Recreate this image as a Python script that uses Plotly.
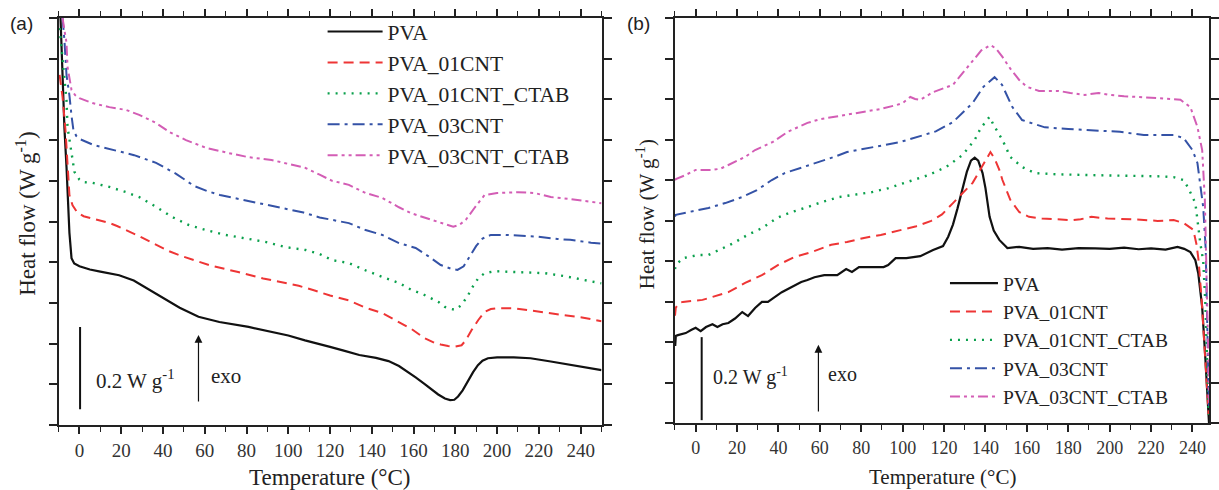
import plotly.graph_objects as go

# ---------------- Panel (a) data: temperature (°C) and heat flow (W/g, offset) ----------------
t_pva_a = [-9.2, -8.1, -7.2, -6.2, -4.8, -3.8, -2.5, 0, 5, 10, 19, 26, 33, 40, 48, 57, 67, 81, 92, 100,
           108, 114.5, 120, 127, 134, 142, 148, 153, 157.4, 161, 165.5, 169, 171.8, 175, 177.5, 179.5,
           181.3, 183.5, 186, 188.5, 190.8, 193, 195.6, 200, 208, 216, 225.7, 233, 240, 250]
hf_pva_a = [1.02, 0.84, 0.73, 0.634, 0.472, 0.41, 0.397, 0.39, 0.382, 0.377, 0.368, 0.355, 0.333, 0.312,
            0.288, 0.266, 0.253, 0.241, 0.229, 0.22, 0.208, 0.2, 0.192, 0.182, 0.172, 0.165, 0.157, 0.145,
            0.13, 0.117, 0.1, 0.085, 0.075, 0.065, 0.061, 0.062, 0.07, 0.085, 0.108, 0.13, 0.147, 0.158,
            0.164, 0.166, 0.166, 0.164, 0.156, 0.15, 0.145, 0.135]

t_01_a = [-9.5, -8.1, -6.7, -5.7, -4.8, -3.3, -1, 2, 5, 9.5, 14, 18, 22.4, 28.6, 34, 38, 43, 49, 55, 62,
          70, 76, 88, 100, 105, 113, 120, 129, 137, 145, 153, 159, 165, 170, 173, 176.5, 180, 183, 185,
          188, 191, 194, 197, 200, 208, 216, 224, 232, 240, 245, 250]
hf_01_a = [0.86, 0.806, 0.725, 0.651, 0.565, 0.54, 0.522, 0.513, 0.509, 0.504, 0.497, 0.489, 0.479, 0.464,
           0.45, 0.44, 0.427, 0.415, 0.405, 0.393, 0.383, 0.376, 0.36, 0.348, 0.342, 0.33, 0.318, 0.306,
           0.288, 0.275, 0.253, 0.236, 0.214, 0.202, 0.198, 0.194, 0.193, 0.196, 0.208, 0.235, 0.258,
           0.278, 0.285, 0.287, 0.287, 0.281, 0.275, 0.27, 0.265, 0.26, 0.255]

t_01c_a = [-9.5, -9, -7.6, -6.2, -5.7, -4.8, -3.8, -2.4, 0, 1.4, 6.2, 14.3, 22.4, 28.6, 36.7, 44.4, 52.5,
           60.6, 70, 79.7, 89, 98.8, 108.3, 115, 121, 129, 137, 145, 153, 159, 165, 172, 175, 178, 180,
           183, 186, 188, 191, 194, 199, 208, 223, 232, 246.6, 250]
hf_01c_a = [0.975, 0.946, 0.872, 0.798, 0.732, 0.70, 0.668, 0.622, 0.603, 0.597, 0.595, 0.585, 0.572, 0.56,
            0.536, 0.511, 0.491, 0.479, 0.467, 0.459, 0.45, 0.437, 0.43, 0.42, 0.405, 0.398, 0.38, 0.364,
            0.349, 0.332, 0.32, 0.302, 0.29, 0.285, 0.283, 0.295, 0.318, 0.337, 0.361, 0.373, 0.378, 0.376,
            0.373, 0.366, 0.351, 0.348]

t_03_a = [-8.1, -7.2, -6.2, -4.8, -3.8, -2.9, -1.5, 0, 6.7, 15.7, 26.2, 36.7, 46.3, 55, 61, 67.3, 81.6, 94,
          107.3, 115, 121, 129, 137, 145, 153, 161, 167, 173, 178, 181, 184, 187, 190, 193, 197, 204, 213,
          219, 229, 235, 245, 250]
hf_03_a = [1.0, 0.946, 0.86, 0.81, 0.76, 0.725, 0.71, 0.703, 0.688, 0.676, 0.663, 0.644, 0.617, 0.587,
           0.575, 0.565, 0.55, 0.536, 0.522, 0.51, 0.504, 0.496, 0.479, 0.467, 0.447, 0.435, 0.415, 0.393,
           0.384, 0.381, 0.39, 0.415, 0.44, 0.458, 0.467, 0.467, 0.465, 0.463, 0.457, 0.455, 0.448, 0.446]

t_03c_a = [-8.1, -6.2, -5.7, -3.8, -2, 0, 6.2, 14.3, 22.4, 28.6, 36.7, 43, 51, 60.6, 71.6, 81, 92, 101.6,
           108, 115, 121, 129, 137, 145, 153, 159, 165, 173, 179, 182, 185, 189.4, 194, 200, 210, 218,
           225.7, 235, 245, 250]
hf_03c_a = [1.0, 0.939, 0.88, 0.823, 0.81, 0.803, 0.791, 0.781, 0.774, 0.762, 0.742, 0.72, 0.70, 0.681,
            0.668, 0.658, 0.651, 0.639, 0.632, 0.615, 0.60, 0.59, 0.57, 0.558, 0.535, 0.52, 0.51, 0.496,
            0.487, 0.492, 0.504, 0.535, 0.565, 0.57, 0.572, 0.57, 0.56, 0.555, 0.548, 0.545]

# ---------------- Panel (b) data ----------------
t_pva_b = [-9.9, -9.6, -8.6, -4.8, -2, 0, 2.4, 5, 8.1, 10.5, 13, 15.8, 19, 22.5, 25.3, 28.7, 32, 34.9, 38,
           41.6, 46.4, 51, 54, 57.4, 62.1, 68.4, 72.7, 75.5, 78.9, 84, 90.8, 93, 96.6, 101.8, 108.5, 114.7,
           119.5, 122, 124.3, 126.5, 129, 131, 133, 134.8, 136.5, 138.6, 140, 142, 144, 146.7, 150.6, 156.3,
           163, 170, 177, 185, 193, 200, 207, 214, 220, 227, 232.8, 236, 239, 241.4, 242.8, 244.7, 246.2,
           247.1, 247.6, 248]
hf_pva_b = [0.19, 0.215, 0.217, 0.222, 0.23, 0.235, 0.227, 0.237, 0.244, 0.237, 0.244, 0.247, 0.258, 0.274,
            0.264, 0.284, 0.299, 0.299, 0.31, 0.323, 0.336, 0.348, 0.353, 0.36, 0.365, 0.365, 0.38, 0.373,
            0.385, 0.385, 0.385, 0.39, 0.407, 0.407, 0.412, 0.427, 0.437, 0.46, 0.49, 0.53, 0.58, 0.62,
            0.648, 0.655, 0.648, 0.617, 0.58, 0.509, 0.475, 0.452, 0.432, 0.435, 0.43, 0.432, 0.428, 0.432,
            0.431, 0.43, 0.433, 0.429, 0.431, 0.428, 0.435, 0.43, 0.422, 0.402, 0.37, 0.286, 0.163, 0.08,
            0.025, 0.0]

t_01_b = [-10, -9.6, -8.1, -6.2, 3.3, 8.1, 15.8, 23.9, 32, 39.7, 47.8, 55.9, 65.5, 73.1, 81.3, 89.4, 99,
          106.6, 113.8, 119, 124.3, 129, 133.8, 138, 142.4, 144.5, 146.7, 148.2, 152, 156.3, 161, 167.3,
          174, 181.6, 186, 191.2, 199, 207, 215, 223.2, 230.9, 235.7, 240.4, 242, 243, 244.5, 245.8, 247,
          247.8]
hf_01_b = [0.265, 0.285, 0.296, 0.299, 0.304, 0.311, 0.323, 0.346, 0.365, 0.39, 0.41, 0.422, 0.44, 0.447,
           0.457, 0.464, 0.477, 0.486, 0.499, 0.515, 0.543, 0.567, 0.593, 0.63, 0.669, 0.652, 0.625, 0.6,
           0.551, 0.521, 0.509, 0.505, 0.503, 0.501, 0.503, 0.509, 0.505, 0.504, 0.502, 0.499, 0.501, 0.494,
           0.477, 0.44, 0.4, 0.3, 0.18, 0.08, 0.02]

t_01c_b = [-10, -9.6, -6.2, 1.4, 6.2, 12.9, 18.2, 24.9, 32, 39.2, 46.4, 54, 61.2, 69.3, 77.4, 85.1, 93.2,
           100.4, 105.2, 112.3, 121, 129, 134.8, 137.7, 142, 144, 148.2, 152, 157.7, 164, 175, 191.2, 205,
           215.1, 225, 230.9, 235.7, 238, 241.4, 243.8, 245.2, 246.2, 247.2, 247.9]
hf_01c_b = [0.38, 0.39, 0.407, 0.415, 0.415, 0.432, 0.444, 0.464, 0.481, 0.506, 0.521, 0.533, 0.546, 0.558,
            0.565, 0.57, 0.58, 0.593, 0.6, 0.612, 0.632, 0.662, 0.699, 0.728, 0.756, 0.735, 0.699, 0.657,
            0.632, 0.617, 0.614, 0.612, 0.611, 0.61, 0.609, 0.607, 0.6, 0.58, 0.543, 0.444, 0.4, 0.3, 0.15,
            0.02]

t_03_b = [-10, -9.6, -1.4, 6.2, 14.3, 22.5, 29.6, 36.8, 43, 51.1, 58.8, 66.9, 73.1, 82.7, 90.8, 99, 105.2,
          116, 124.3, 130, 133.8, 139, 144.4, 148, 153, 157.7, 168.7, 180, 192.6, 205, 216.5, 230.9, 235.7,
          240, 242.4, 243.8, 245.2, 246.4, 247, 247.6, 248]
hf_03_b = [0.51, 0.514, 0.523, 0.531, 0.543, 0.558, 0.575, 0.60, 0.617, 0.63, 0.644, 0.657, 0.669, 0.679,
           0.686, 0.694, 0.704, 0.72, 0.743, 0.77, 0.79, 0.83, 0.854, 0.835, 0.78, 0.748, 0.73, 0.726,
           0.723, 0.719, 0.711, 0.711, 0.704, 0.674, 0.642, 0.593, 0.533, 0.43, 0.3, 0.15, 0.03]

t_03c_b = [-10, -9.6, -5, 0, 8.1, 12, 15.8, 20, 23.9, 28.7, 33, 37.3, 44.5, 54, 60, 66.9, 74, 81.3, 89, 97,
           100, 103.7, 106, 108.5, 114.7, 124.3, 129, 133.8, 138, 142.4, 145, 148.2, 152, 156.3, 160,
           165.9, 175.4, 181, 187.9, 194.6, 200, 207, 215, 223.2, 234.2, 239, 242.4, 244.7, 246, 247, 247.6,
           248]
hf_03c_b = [0.60, 0.602, 0.612, 0.625, 0.625, 0.628, 0.637, 0.648, 0.657, 0.674, 0.685, 0.694, 0.719,
            0.741, 0.75, 0.756, 0.762, 0.768, 0.775, 0.785, 0.79, 0.805, 0.8, 0.798, 0.817, 0.835, 0.865,
            0.896, 0.92, 0.933, 0.925, 0.904, 0.875, 0.847, 0.83, 0.82, 0.82, 0.815, 0.81, 0.815, 0.81,
            0.807, 0.805, 0.802, 0.798, 0.78, 0.731, 0.674, 0.55, 0.35, 0.18, 0.05]

series_names = ["PVA", "PVA_01CNT", "PVA_01CNT_CTAB", "PVA_03CNT", "PVA_03CNT_CTAB"]
x_ticks = [0, 20, 40, 60, 80, 100, 120, 140, 160, 180, 200, 220, 240]

# scale bar (0.2 W/g) and exo arrow, in data units
bar_a = dict(x=0.3, y0=0.039, y1=0.241)
arrow_a = dict(x=57, y0=0.054, y1=0.221)
bar_b = dict(x=2.9, y0=0.007, y1=0.212)
arrow_b = dict(x=59.3, y0=0.025, y1=0.193)

colors = ["#111111", "#ee3535", "#0aa04c", "#3452a6", "#d35db5"]
dashes = ["solid", "10px,6px", "2px,6px", "12px,5px,3px,5px", "10px,4px,3px,4px,3px,4px"]
widths = [2.2, 2.0, 2.4, 2.0, 2.0]

serif = "Liberation Serif"
fig = go.Figure()

data_a = [(t_pva_a, hf_pva_a), (t_01_a, hf_01_a), (t_01c_a, hf_01c_a), (t_03_a, hf_03_a), (t_03c_a, hf_03c_a)]
data_b = [(t_pva_b, hf_pva_b), (t_01_b, hf_01_b), (t_01c_b, hf_01c_b), (t_03_b, hf_03_b), (t_03c_b, hf_03c_b)]

for i, (t, h) in enumerate(data_a):
    fig.add_trace(go.Scatter(x=t, y=h, mode="lines", name=series_names[i], xaxis="x", yaxis="y",
                             line=dict(color=colors[i], dash=dashes[i], width=widths[i]),
                             legend="legend"))
for i, (t, h) in enumerate(data_b):
    fig.add_trace(go.Scatter(x=t, y=h, mode="lines", name=series_names[i], xaxis="x2", yaxis="y2",
                             line=dict(color=colors[i], dash=dashes[i], width=widths[i]),
                             legend="legend2"))

W, H = 1219, 490


def xax(domain, rng, fsize):
    return dict(domain=domain, range=rng, tickmode="array", tickvals=x_ticks,
                ticks="outside", ticklen=7, tickwidth=1.5, tickcolor="#222",
                minor=dict(dtick=10, tick0=0, ticks="outside", ticklen=5, tickwidth=1.2, tickcolor="#222"),
                showline=True, linecolor="#222", linewidth=2, mirror="allticks",
                showgrid=False, zeroline=False,
                tickfont=dict(family=serif, size=fsize, color="#333"))


def yax(domain, anchor):
    return dict(domain=domain, range=[0, 1.0], dtick=0.1, tick0=0, showticklabels=False,
                ticks="outside", ticklen=8, tickwidth=1.5, tickcolor="#222",
                showline=True, linecolor="#222", linewidth=2, mirror="allticks",
                showgrid=False, zeroline=False, anchor=anchor)


fig.update_layout(
    width=W, height=H, margin=dict(l=0, r=0, t=0, b=0),
    paper_bgcolor="white", plot_bgcolor="white",
    xaxis=dict(**xax([59 / W, 606 / W], [-10, 250], 19), anchor="y"),
    yaxis=yax([65 / H, 472 / H], "x"),
    xaxis2=dict(**xax([680 / W, 1218 / W], [-10, 248], 18), anchor="y2"),
    yaxis2=yax([67 / H, 472 / H], "x2"),
    legend=dict(x=325 / W, y=1 - 11 / H, xanchor="left", yanchor="top", bgcolor="rgba(0,0,0,0)",
                font=dict(family=serif, size=21.5, color="#222"), itemwidth=55, tracegroupgap=0),
    legend2=dict(x=952 / W, y=1 - 264 / H, xanchor="left", yanchor="top", bgcolor="rgba(0,0,0,0)",
                 font=dict(family=serif, size=19.5, color="#222"), itemwidth=48, tracegroupgap=0),
    showlegend=True,
)

shapes = []
annos = []
for bar, arrow, xr, yr, fs, tx, ex, ty, ey in [
    (bar_a, arrow_a, "x", "y", 21, 7.2, 62, 0.112, 0.12),
    (bar_b, arrow_b, "x2", "y2", 20, 7.6, 63, 0.114, 0.122),
]:
    shapes.append(dict(type="line", xref=xr, yref=yr, x0=bar["x"], x1=bar["x"], y0=bar["y0"], y1=bar["y1"],
                       line=dict(color="#111", width=2)))
    annos.append(dict(xref=xr, yref=yr, axref=xr, ayref=yr, x=arrow["x"], y=arrow["y1"],
                      ax=arrow["x"], ay=arrow["y0"], text="", showarrow=True, arrowhead=2,
                      arrowsize=1.3, arrowwidth=1.2, arrowcolor="#111"))
    annos.append(dict(xref=xr, yref=yr, x=tx, y=ty, text="0.2 W g<sup>-1</sup>", showarrow=False,
                      xanchor="left", yanchor="middle", font=dict(family=serif, size=fs, color="#222")))
    annos.append(dict(xref=xr, yref=yr, x=ex, y=ey, text="exo", showarrow=False,
                      xanchor="left", yanchor="middle", font=dict(family=serif, size=fs, color="#222")))

# panel labels
annos.append(dict(xref="paper", yref="paper", x=8 / W, y=1 - 23 / H, text="(a)", showarrow=False,
                  xanchor="left", yanchor="middle", font=dict(family="Liberation Sans", size=19, color="#222")))
annos.append(dict(xref="paper", yref="paper", x=630 / W, y=1 - 23 / H, text="(b)", showarrow=False,
                  xanchor="left", yanchor="middle", font=dict(family="Liberation Sans", size=19, color="#222")))
# axis titles
annos.append(dict(xref="paper", yref="paper", x=332 / W, y=1 - 477 / H, text="Temperature (°C)",
                  showarrow=False, xanchor="center", yanchor="middle",
                  font=dict(family=serif, size=23, color="#222")))
annos.append(dict(xref="paper", yref="paper", x=950 / W, y=1 - 477 / H, text="Temperature (°C)",
                  showarrow=False, xanchor="center", yanchor="middle",
                  font=dict(family=serif, size=21, color="#222")))
annos.append(dict(xref="paper", yref="paper", x=26 / W, y=1 - 214 / H, text="Heat flow (W g<sup>-1</sup>)",
                  showarrow=False, textangle=-90, xanchor="center", yanchor="middle",
                  font=dict(family=serif, size=23, color="#222")))
annos.append(dict(xref="paper", yref="paper", x=650 / W, y=1 - 214 / H, text="Heat flow (W g<sup>-1</sup>)",
                  showarrow=False, textangle=-90, xanchor="center", yanchor="middle",
                  font=dict(family=serif, size=21, color="#222")))

fig.update_layout(shapes=shapes, annotations=annos)
fig.write_html("out.html")
